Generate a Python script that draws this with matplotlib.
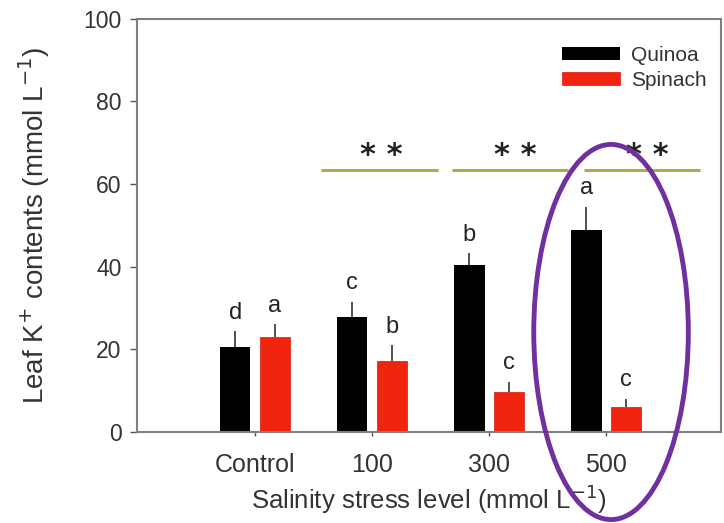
import matplotlib
matplotlib.use("Agg")
import matplotlib.pyplot as plt
from matplotlib.patches import Ellipse
import numpy as np

plt.rcParams['font.family'] = ['Liberation Sans', 'DejaVu Sans']

categories = ["Control", "100", "300", "500"]
quinoa = [20.6, 27.9, 40.4, 49.0]
quinoa_err = [3.8, 3.6, 2.9, 5.5]
spinach = [23.1, 17.2, 9.7, 6.1]
spinach_err = [3.0, 3.8, 2.5, 1.9]
quinoa_letters = ["d", "c", "b", "a"]
spinach_letters = ["a", "b", "c", "c"]
sig_labels = ["**", "**", "**"]

fig = plt.figure(figsize=(7.24, 5.23), dpi=100)
ax = fig.add_axes([0.189, 0.174, 0.807, 0.79])

x = np.arange(len(categories))
off = 0.17
w = 0.26
ax.bar(x - off, quinoa, w, color='black', label='Quinoa', zorder=2)
ax.bar(x + off, spinach, w, color='#f0240f', edgecolor='#d01a0a', linewidth=0.5,
       label='Spinach', zorder=2)
ax.errorbar(x - off, quinoa, yerr=[np.zeros(4), quinoa_err], fmt='none',
            ecolor='#333333', elinewidth=1.2, capsize=0, zorder=1)
ax.errorbar(x + off, spinach, yerr=[np.zeros(4), spinach_err], fmt='none',
            ecolor='#333333', elinewidth=1.2, capsize=0, zorder=1)

for i in range(4):
    ax.text(x[i] - off, quinoa[i] + quinoa_err[i] + 4.5, quinoa_letters[i],
            ha='center', va='center', fontsize=17, color='#222222')
    ax.text(x[i] + off, spinach[i] + spinach_err[i] + 4.5, spinach_letters[i],
            ha='center', va='center', fontsize=17, color='#222222')

# significance lines
sig_spans = [(0.56, 1.56), (1.68, 2.67), (2.81, 3.8)]
sig_centers = [1.08, 2.22, 3.35]
for (a, b), c, lab in zip(sig_spans, sig_centers, sig_labels):
    ax.plot([a, b], [63.3, 63.3], color='#b0aa48', lw=2.2, solid_capstyle='butt',
            zorder=3, clip_on=False)
    ax.text(c, 67.0, ' '.join(lab), ha='center', va='center', fontsize=22,
            family='DejaVu Sans', fontweight='bold', color='#222222')

# highlight ellipse
ell = Ellipse((3.04, 24.2), 1.32, 90.8, fill=False, edgecolor='#7030a0',
              linewidth=3.5, clip_on=False, zorder=5)
ax.add_patch(ell)

ax.set_xlim(-1.01, 3.98)
ax.set_ylim(0, 100)
ax.set_xticks(x)
ax.set_xticklabels(categories, fontsize=18, color='#333333')
ax.set_yticks([0, 20, 40, 60, 80, 100])
ax.set_yticklabels(['0', '20', '40', '60', '80', '100'], fontsize=16.5, color='#333333')
ax.tick_params(axis='x', length=3, width=1, color='#555555', pad=12)
ax.tick_params(axis='y', length=5, width=1, color='#555555', pad=6)
for s in ax.spines.values():
    s.set_color('#808080')
    s.set_linewidth(1.5)

ax.set_xlabel('Salinity stress level (mmol L$^{-1}$)', fontsize=18.5, color='#333333',
              labelpad=4)
ax.set_ylabel('Leaf K$^{+}$ contents (mmol L$^{-1}$)', fontsize=20, color='#333333')
ax.yaxis.set_label_coords(-0.145, 0.50)

leg = ax.legend(loc='upper right', frameon=False, fontsize=15, handlelength=2.8,
                handleheight=0.6, handletextpad=0.5, labelspacing=0.3,
                bbox_to_anchor=(1.0, 0.97), borderaxespad=0.3)
for t in leg.get_texts():
    t.set_color('#333333')

fig.savefig('out.png', dpi=100)
